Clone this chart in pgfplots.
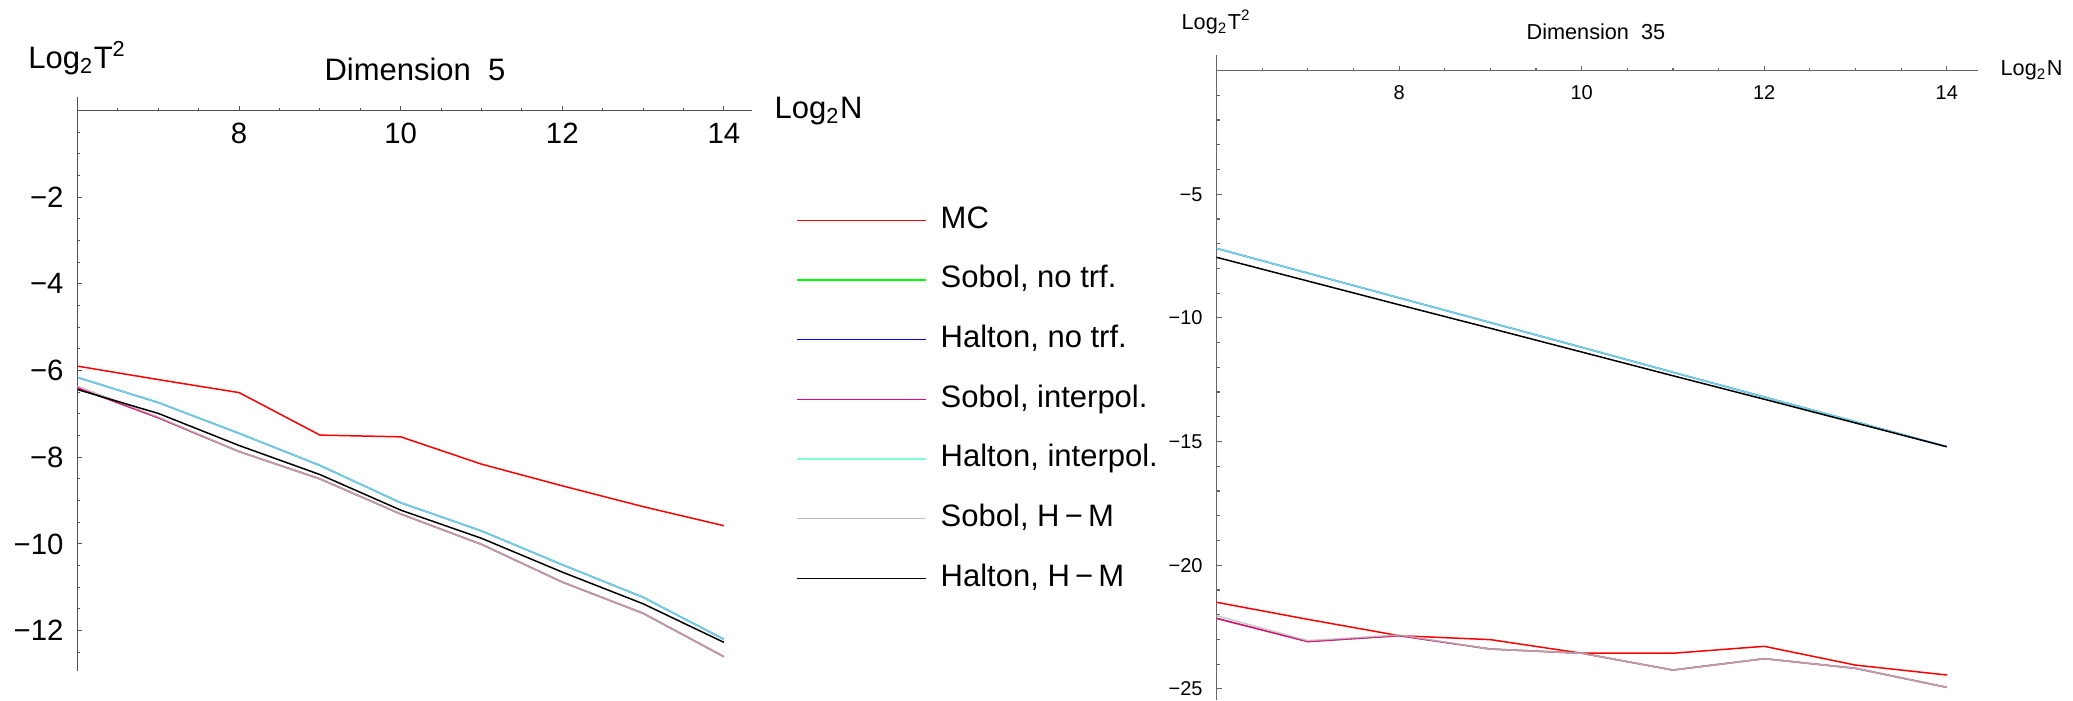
\documentclass[border=0pt]{standalone}
\usepackage{fontspec}
\setmainfont{Liberation Sans}
\usepackage{pgfplots}
\usepackage{pgfplotstable}
\pgfplotsset{compat=1.18}

\definecolor{aqua}{rgb}{0.498,1,0.831}
\definecolor{lgray}{rgb}{0.75,0.75,0.75}

\newcommand\fL{\fontsize{9.3}{11}\selectfont}
\newcommand\fT{\fontsize{8.8}{10}\selectfont}
\newcommand\fS{\fontsize{6.5}{8}\selectfont}
\newcommand\fU{\fontsize{6}{7}\selectfont}

% log2 of squared error, dimension 5
\pgfplotstableread{
n  MC     SobNo   HalNo   SobInt  HalInt  SobHM   HalHM
6  -5.90  -6.40   -6.16   -6.40   -6.16   -6.36   -6.44
7  -6.21  -7.09   -6.74   -7.09   -6.74   -7.07   -6.99
8  -6.51  -7.87   -7.45   -7.87   -7.45   -7.87   -7.73
9  -7.49  -8.50   -8.19   -8.50   -8.19   -8.50   -8.40
10 -7.53  -9.31   -9.05   -9.31   -9.05   -9.31   -9.22
11 -8.16  -10.01  -9.70   -10.01  -9.70   -10.01  -9.87
12 -8.66  -10.88  -10.48  -10.88  -10.48  -10.88  -10.65
13 -9.14  -11.60  -11.23  -11.60  -11.23  -11.60  -11.38
14 -9.58  -12.60  -12.20  -12.60  -12.20  -12.60  -12.27
}\dimfive

% dimension 35
\pgfplotstableread{
n  MC      SobNo   HalNo   SobInt  HalInt  SobHM   HalHM
6  -21.50  -22.15  -7.19   -22.15  -7.19   -22.04  -7.55
7  -22.19  -23.09  -8.19   -23.09  -8.19   -23.05  -8.51
8  -22.85  -22.85  -9.19   -22.85  -9.19   -22.82  -9.47
9  -23.01  -23.39  -10.19  -23.39  -10.19  -23.39  -10.42
10 -23.56  -23.56  -11.19  -23.56  -11.19  -23.56  -11.38
11 -23.56  -24.24  -12.20  -24.24  -12.20  -24.24  -12.34
12 -23.28  -23.78  -13.20  -23.78  -13.20  -23.78  -13.29
13 -24.04  -24.17  -14.20  -24.17  -14.20  -24.17  -14.25
14 -24.44  -24.94  -15.21  -24.94  -15.21  -24.94  -15.21
}\dimthirtyfive

\pgfplotsset{
  mma/.style={
    scale only axis, anchor=south west,
    axis x line=middle, axis y line=left,
    axis line style={-},
    xtick align=inside, ytick align=inside,
    xmin=6, xmax=14.35,
    xtick={8,10,12,14}, xticklabels={8,10,12,14},
    minor xtick={6.5,7,...,14},
    every axis plot/.append style={line width=0.45pt},
    clip=false,
    /pgf/number format/assume math mode=true,
  }
}

\begin{document}
\begin{tikzpicture}[x=1pt,y=1pt]
\path[use as bounding box] (0,0) rectangle (621.9,210.3);

\begin{axis}[mma,
  at={(23.25pt,9pt)}, width=202.4pt, height=172.1pt,
  ymin=-12.93, ymax=0.3,
  ytick={-12,-10,-8,-6,-4,-2},
  yticklabels={−12,−10,−8,−6,−4,−2},
  minor ytick={-12.5,-12,...,-0.5},
  axis line style={black!68, line width=0.3pt},
  tick style={black!68, line width=0.3pt},
  major tick length=1.4pt, minor tick length=0.8pt,
  xticklabel style={font=\fT, inner sep=0pt, yshift=-3.6pt},
  yticklabel style={font=\fT, inner sep=0pt, xshift=-4pt},
  legend image code/.code={\draw[#1, line width=0.45pt] (0pt,0pt) -- (38.7pt,0pt);},
  legend style={at={(axis description cs:1.0648,0.812)}, anchor=north west,
    draw=none, fill=none, inner sep=0pt, font=\fL, row sep=9.2pt,
    nodes={inner sep=0pt, text height=6.7pt, text depth=2pt},
    /tikz/every odd column/.append style={column sep=4.1pt}},
  legend cell align=left,
]
\addplot[red, forget plot] table[x=n, y=MC] {\dimfive};
\addplot[green, forget plot] table[x=n, y=SobNo] {\dimfive};
\addplot[blue, forget plot] table[x=n, y=HalNo] {\dimfive};
\addplot[magenta, forget plot] table[x=n, y=SobInt] {\dimfive};
\addplot[aqua, opacity=0.85, forget plot] table[x=n, y=HalInt] {\dimfive};
\addplot[lgray, opacity=0.8, forget plot] table[x=n, y=SobHM] {\dimfive};
\addplot[black, forget plot] table[x=n, y=HalHM] {\dimfive};

\addlegendimage{red}\addlegendentry{MC}
\addlegendimage{green}\addlegendentry{Sobol, no trf.}
\addlegendimage{blue}\addlegendentry{Halton, no trf.}
\addlegendimage{magenta}\addlegendentry{Sobol, interpol.}
\addlegendimage{aqua}\addlegendentry{Halton, interpol.}
\addlegendimage{lgray}\addlegendentry{Sobol, H\,−\,M}
\addlegendimage{black}\addlegendentry{Halton, H\,−\,M}
\end{axis}

\begin{axis}[mma,
  at={(364.95pt,0.3pt)}, width=228.4pt, height=193.5pt,
  xmax=14.34,
  ymin=-25.45, ymax=0.63,
  ytick={-25,-20,-15,-10,-5},
  yticklabels={−25,−20,−15,−10,−5},
  minor ytick={-25,-24,...,-1},
  axis line style={black!60, line width=0.5pt},
  tick style={black!60, line width=0.35pt},
  major tick length=1.5pt, minor tick length=0.9pt,
  xticklabel style={font=\fU, inner sep=0pt, yshift=-4.3pt},
  yticklabel style={font=\fU, inner sep=0pt, xshift=-4pt},
]
\addplot[red] table[x=n, y=MC] {\dimthirtyfive};
\addplot[green] table[x=n, y=SobNo] {\dimthirtyfive};
\addplot[blue] table[x=n, y=HalNo] {\dimthirtyfive};
\addplot[magenta] table[x=n, y=SobInt] {\dimthirtyfive};
\addplot[aqua, opacity=0.85] table[x=n, y=HalInt] {\dimthirtyfive};
\addplot[lgray, opacity=0.8] table[x=n, y=SobHM] {\dimthirtyfive};
\addplot[black] table[x=n, y=HalHM] {\dimthirtyfive};
\end{axis}

\node[anchor=base west, inner sep=0pt, font=\fL] at (8.3,189.6) {Log\textsubscript{2}T\textsuperscript{2}};
\node[anchor=base, inner sep=0pt, font=\fL] at (124.5,186) {Dimension\ \ 5};
\node[anchor=base west, inner sep=0pt, font=\fL] at (232.2,174.8) {Log\textsubscript{2}N};
\node[anchor=base west, inner sep=0pt, font=\fS] at (354.3,201.5) {Log\textsubscript{2}T\textsuperscript{2}};
\node[anchor=base west, inner sep=0pt, font=\fS] at (457.8,198.3) {Dimension\ \ 35};
\node[anchor=base west, inner sep=0pt, font=\fS] at (600,187.5) {Log\textsubscript{2}N};
\end{tikzpicture}
\end{document}
